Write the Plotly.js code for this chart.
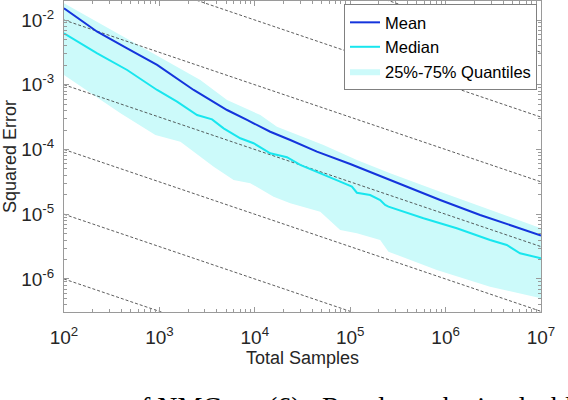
<!DOCTYPE html>
<html>
<head>
<meta charset="utf-8">
<script src="https://cdn.plot.ly/plotly-3.0.1.min.js"></script>
<style>
  html, body { margin: 0; padding: 0; background: #fff; }
  #chart { width: 568px; height: 400px; }
</style>
</head>
<body>
<div id="chart"></div>
<script>
// ---- Data ----
var meanX = [100, 223, 459, 946, 2286, 5117, 8279, 14521, 23550, 38107, 44771, 1e5, 2.63e5, 8.77e5, 2.30e6, 1e7];
var meanY = [1.52e-2, 6.59e-3, 3.66e-3, 2.02e-3, 8.30e-4, 4.07e-4, 2.86e-4, 1.88e-4, 1.40e-4, 1.04e-4, 9.25e-5, 5.97e-5, 3.38e-5, 1.66e-5, 9.73e-6, 4.70e-6];

var medianX = [100, 223, 459, 946, 1531, 2483, 3565, 4710, 7047, 9705, 14521, 21727, 29923, 38107, 52481, 78524, 104200, 117490, 161810, 206070, 232270, 251770, 586140, 1309000, 2924000, 4375000, 6026000, 1e7];
var medianY = [6.24e-3, 3.06e-3, 1.69e-3, 8.30e-4, 5.47e-4, 3.41e-4, 2.92e-4, 2.12e-4, 1.49e-4, 1.25e-4, 8.73e-5, 7.59e-5, 5.77e-5, 5.00e-5, 4.04e-5, 3.18e-5, 2.67e-5, 2.15e-5, 1.98e-5, 1.66e-5, 1.39e-5, 1.31e-5, 8.65e-6, 6.07e-6, 4.00e-6, 3.35e-6, 2.49e-6, 2.09e-6];

var q75X = [100, 223, 460, 1026, 2685, 5117, 11429, 17061, 25468, 52481, 117490, 262420, 877000, 2924000, 1e7];
var q75Y = [1.81e-2, 9.31e-3, 5.09e-3, 2.59e-3, 1.18e-3, 5.81e-4, 3.41e-4, 2.25e-4, 1.78e-4, 1.17e-4, 6.89e-5, 4.29e-5, 2.23e-5, 1.16e-5, 6.07e-6];

var q25X = [100, 391, 908, 1660, 3707, 5998, 8974, 15740, 23550, 48530, 78520, 117490, 206070, 251770, 809000, 2924000, 1e7];
var q25Y = [1.42e-3, 3.62e-4, 1.67e-4, 1.32e-4, 5.42e-5, 3.38e-5, 3.01e-5, 1.87e-5, 1.48e-5, 1.09e-5, 5.71e-6, 5.08e-6, 4.00e-6, 2.64e-6, 1.38e-6, 7.60e-7, 5.03e-7];

// reference guide lines (slope -1/2 on log-log): value at x=1e2 and at x=1e7
var refX = [1e2, 1e7];
var refYStart = [1, 1e-1, 1e-2, 1e-3, 1e-4, 1e-5, 1e-6];
var refYEnd = [3.162e-3, 3.162e-4, 3.162e-5, 3.162e-6, 3.162e-7, 3.162e-8, 3.162e-9];

var xTickVals = [1e2, 1e3, 1e4, 1e5, 1e6, 1e7];
var xTickText = ['10<sup>2</sup>', '10<sup>3</sup>', '10<sup>4</sup>', '10<sup>5</sup>', '10<sup>6</sup>', '10<sup>7</sup>'];
var yTickVals = [1e-6, 1e-5, 1e-4, 1e-3, 1e-2];
var yTickText = ['10<sup>-6</sup>', '10<sup>-5</sup>', '10<sup>-4</sup>', '10<sup>-3</sup>', '10<sup>-2</sup>'];

var seriesNames = ['Mean', 'Median', '25%-75% Quantiles'];
// fragment of the page caption cut off at the bottom edge
var captionWords = ['of NMC', '(6).', 'Results', 'obtained', 'bl'];
var captionStartPx = [126, 267, 321, 428, 550];

// ---- minor tick positions (2..9 x 10^k) ----
function minorTicks(k0, k1) {
  var out = [];
  for (var k = k0; k <= k1; k++) {
    for (var m = 2; m <= 9; m++) out.push(m * Math.pow(10, k));
  }
  return out;
}

var traces = [];

// quantile band polygon
traces.push({
  x: q75X.concat(q25X.slice().reverse()),
  y: q75Y.concat(q25Y.slice().reverse()),
  type: 'scatter', mode: 'lines',
  fill: 'toself', fillcolor: '#ccfafa',
  line: { width: 0, color: '#ccfafa' },
  name: seriesNames[2], legendrank: 3,
  hoverinfo: 'skip'
});

for (var i = 0; i < refYStart.length; i++) {
  traces.push({
    x: refX, y: [refYStart[i], refYEnd[i]],
    type: 'scatter', mode: 'lines',
    line: { color: '#333333', width: 0.8, dash: '3px,2px' },
    showlegend: false, hoverinfo: 'skip'
  });
}

traces.push({
  x: meanX, y: meanY, type: 'scatter', mode: 'lines',
  line: { color: '#1434dc', width: 2 },
  name: seriesNames[0], legendrank: 1
});
traces.push({
  x: medianX, y: medianY, type: 'scatter', mode: 'lines',
  line: { color: '#18e6ee', width: 2 },
  name: seriesNames[1], legendrank: 2
});

var axisColor = '#9a9a9a';
var font = 'Liberation Sans, Arial, Helvetica, sans-serif';
var marginL = 64, marginR = 27, plotW = 568 - marginL - marginR;

var annotations = captionWords.map(function (w, k) {
  return {
    text: w, xref: 'paper', yref: 'paper',
    x: (captionStartPx[k] - marginL) / plotW, y: -0.2495,
    xanchor: 'left', yanchor: 'top', showarrow: false, borderpad: 0,
    font: { family: 'Liberation Serif, Times New Roman, serif', size: 28, color: '#000000' }
  };
});

var layout = {
  width: 568, height: 400,
  margin: { l: marginL, r: marginR, t: 1, b: 88 },
  paper_bgcolor: '#ffffff', plot_bgcolor: '#ffffff',
  showlegend: true,
  font: { family: font, color: '#262626' },
  xaxis: {
    type: 'log', range: [2, 7],
    tickmode: 'array', tickvals: xTickVals, ticktext: xTickText,
    ticks: 'inside', ticklen: 5, tickcolor: axisColor, tickwidth: 1,
    showline: true, linecolor: axisColor, linewidth: 1, mirror: 'ticks',
    showgrid: false, zeroline: false,
    tickfont: { size: 19, family: font, color: '#262626' },
    ticklabelstandoff: 8,
    minor: { tickmode: 'array', tickvals: minorTicks(2, 6), ticks: 'inside', ticklen: 3, tickcolor: axisColor, showgrid: false },
    title: { text: 'Total Samples', font: { size: 18, family: font, color: '#262626' }, standoff: 4 }
  },
  yaxis: {
    type: 'log', range: [-6.510, -1.7066],
    tickmode: 'array', tickvals: yTickVals, ticktext: yTickText,
    ticks: 'inside', ticklen: 5, tickcolor: axisColor, tickwidth: 1,
    showline: true, linecolor: axisColor, linewidth: 1, mirror: 'ticks',
    showgrid: false, zeroline: false,
    tickfont: { size: 19, family: font, color: '#262626' },
    ticklabelstandoff: 5,
    minor: { tickmode: 'array', tickvals: minorTicks(-7, -2), ticks: 'inside', ticklen: 3, tickcolor: axisColor, showgrid: false },
    title: { text: 'Squared Error', font: { size: 18, family: font, color: '#262626' }, standoff: 4 }
  },
  legend: {
    x: 0.9916, y: 0.990, xanchor: 'right', yanchor: 'top',
    bgcolor: '#ffffff', bordercolor: '#808080', borderwidth: 1,
    font: { size: 16.5, family: font, color: '#000000' },
    itemwidth: 30, tracegroupgap: 0
  },
  annotations: annotations
};

Plotly.newPlot('chart', traces, layout, { displayModeBar: false, staticPlot: true });
</script>
</body>
</html>
